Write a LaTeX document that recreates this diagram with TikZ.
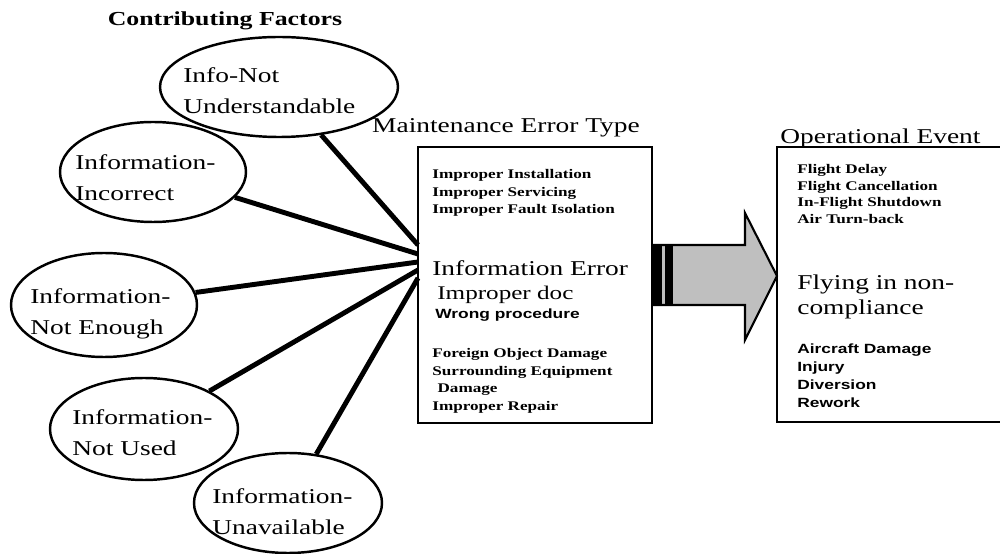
\documentclass[tikz,border=0pt]{standalone}
\usepackage{fontspec}
\setmainfont{Liberation Serif}[FakeStretch=1.3]
\setsansfont{Liberation Sans}[FakeStretch=1.3]
\newcommand{\mainsize}{\fontsize{12}{13.7}\selectfont}
\newcommand{\listsize}{\fontsize{7.5}{10}\selectfont\bfseries}
\newcommand{\sanssize}{\fontsize{7.6}{10.4}\selectfont\sffamily\bfseries}
\usetikzlibrary{shapes.geometric}

\begin{document}
\begin{tikzpicture}[x=0.2mm, y=-0.2mm,
        factor/.style={draw, ellipse, line width=1.4pt, inner sep=0pt},
        factortext/.style={anchor=north west, align=left, inner sep=0pt, font=\fontsize{12}{17.6}\selectfont},
        link/.style={line width=2.8pt},
        errbox/.style={draw, line width=1.4pt, inner sep=0pt},
        txt/.style={inner sep=0pt, anchor=base west},
        block/.style={inner sep=0pt, anchor=north west, align=left}]
            \useasboundingbox (0,0) rectangle (1000,554);
            % contributing factors
            \node[txt, anchor=base, font=\fontsize{11.3}{13}\selectfont\bfseries] (cf) at (225,26) {Contributing Factors};
            \node[factor, minimum width=47.6mm, minimum height=20mm] (e1) at (279,87) {};
            \node[factortext] (t1) at (183,67) {Info-Not\\Understandable};
            \node[factor, minimum width=37.2mm, minimum height=20mm] (e2) at (153,172) {};
            \node[factortext] (t2) at (75,154) {Information-\\Incorrect};
            \node[factor, minimum width=37.2mm, minimum height=20.8mm] (e3) at (104,305) {};
            \node[factortext] (t3) at (30,288) {Information-\\Not Enough};
            \node[factor, minimum width=37.6mm, minimum height=20.4mm] (e4) at (144,429) {};
            \node[factortext] (t4) at (72,409) {Information-\\Not Used};
            \node[factor, minimum width=37.6mm, minimum height=20mm] (e5) at (288,503) {};
            \node[factortext] (t5) at (212,488) {Information-\\Unavailable};
            % maintenance error type
            \node[txt, anchor=base, font=\mainsize] (mtitle) at (506,133) {Maintenance Error Type};
            \node[errbox, minimum width=46.8mm, minimum height=55.2mm] (mbox) at (535,285) {};
            \node[block, font=\listsize] (m1) at (432,169) {Improper Installation\\Improper Servicing\\Improper Fault Isolation};
            \node[txt, font=\mainsize] (m2) at (432,276) {Information Error};
            \node[txt, font=\fontsize{11}{13}\selectfont] (m3) at (437,300) {Improper doc};
            \node[txt, font=\sanssize] (m4) at (435,319) {Wrong procedure};
            \node[block, font=\listsize] (m5) at (432,348) {Foreign Object Damage\\Surrounding Equipment\\\hspace*{3pt}Damage\\Improper Repair};
            % links into the box
            \coordinate (h1) at (418,245);
            \coordinate (h2) at (418,254);
            \coordinate (h3) at (418,262);
            \coordinate (h4) at (418,270);
            \coordinate (h5) at (418,278);
            \draw[link] (e1)--(h1);
            \draw[link] (e2)--(h2);
            \draw[link] (e3)--(h3);
            \draw[link] (e4)--(h4);
            \draw[link] (e5)--(h5);
            % big arrow
            \draw[line width=1.2pt, fill=black!25] (653,245)--(745,245)--(745,213)--(777,276)--(745,340)--(745,305)--(653,305)--cycle;
            \fill (653,245) rectangle (662,305);
            \fill (665,245) rectangle (673,305);
            % operational event
            \node[txt, font=\mainsize] (otitle) at (780,144) {Operational Event};
            \draw[line width=1.4pt] (1000,147) -| (777,422)--(1000,422);
            \node[block, font=\fontsize{7.5}{9.5}\selectfont\bfseries] (o1) at (797,164) {Flight Delay\\Flight Cancellation\\In-Flight Shutdown\\Air Turn-back};
            \node[block, font=\mainsize] (o2) at (797,275) {Flying in non-\\compliance};
            \node[block, font=\sanssize] (o3) at (797,343) {Aircraft Damage\\Injury\\Diversion\\Rework};
        \end{tikzpicture}
\end{document}
